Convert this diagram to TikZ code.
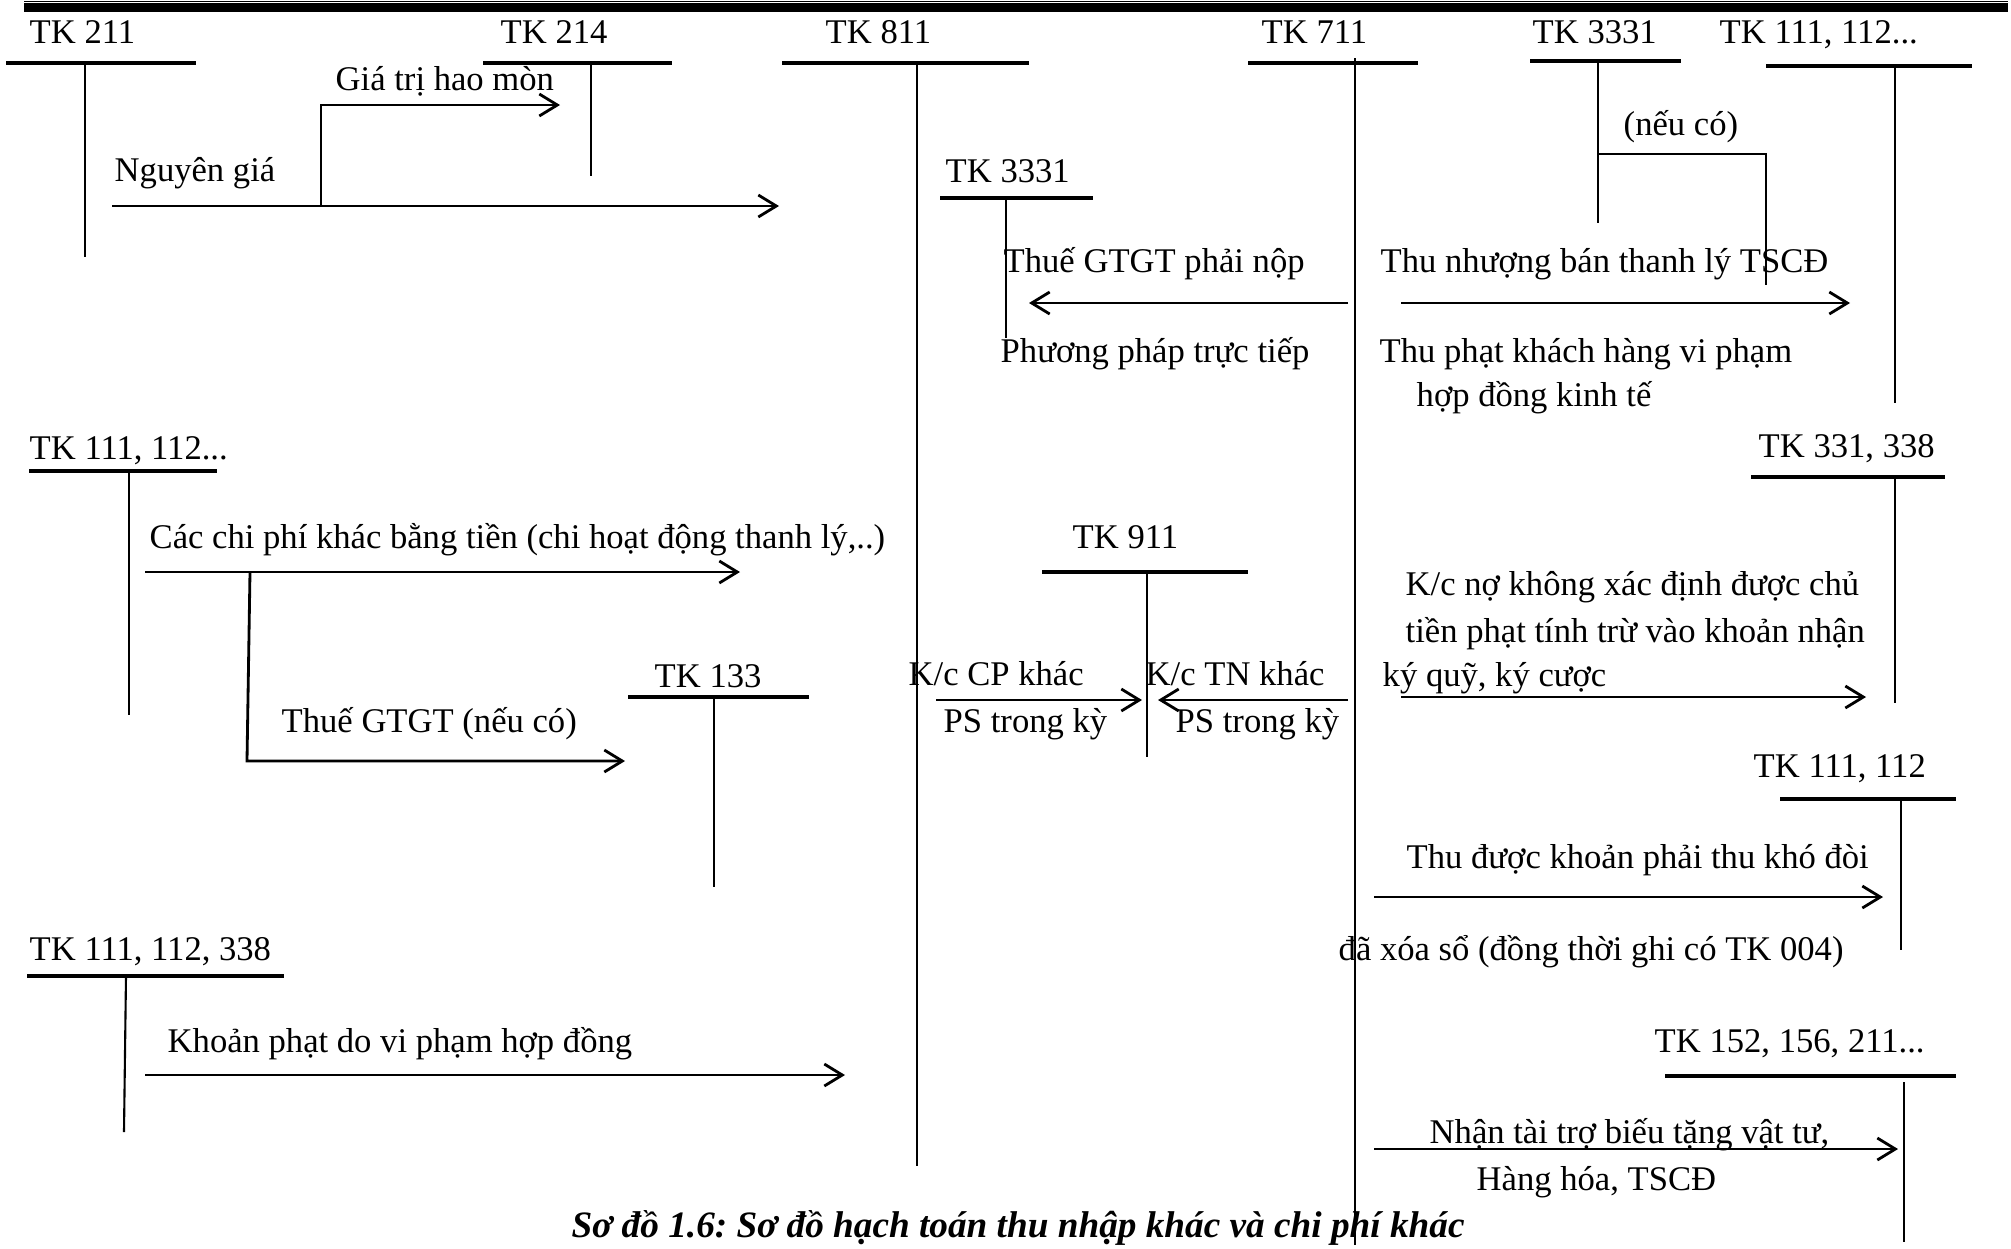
\documentclass[tikz,border=0pt]{standalone}
\usepackage{fontspec}
\setmainfont{Liberation Serif}
\usetikzlibrary{arrows.meta}
\frenchspacing

\begin{document}
\begin{tikzpicture}[x=0.1mm,y=-0.1mm,
	font=\fontsize{9.85}{11}\selectfont,
	lbl/.style={anchor=base west,inner sep=0pt},
	bar/.style={line width=0.95pt},
	acc/.style={line width=0.6pt},
	arr/.style={line width=0.8pt,-{Straight Barb[length=1.8mm,width=2.2mm]}}]
	\useasboundingbox (0,0) rectangle (2011,1248);
	\pgfmathsetmacro\TOP{63}
	\fill (24,3.3) rectangle (2008,11.7);
	\draw[line width=0.3pt] (24,1.5) -- (2008,1.5);

	\coordinate (A211) at (112,206);
	\coordinate (B211) at (321,206);
	\coordinate (C211) at (321,105);
	\coordinate (A214) at (560,105);
	\coordinate (A811) at (779,206);
	\coordinate (X711) at (1348,303);
	\coordinate (A3331) at (1029,303);
	\coordinate (Y711) at (1401,303);
	\coordinate (A111) at (1850,303);
	\coordinate (B3331) at (1598,154);
	\coordinate (C3331) at (1766,154);
	\coordinate (D3331) at (1766,285);
	\coordinate (A112) at (145,572);
	\coordinate (B112) at (250,572);
	\coordinate (C112) at (247,761);
	\coordinate (B811) at (740,572);
	\coordinate (A133) at (625,761);
	\coordinate (C811) at (936,700);
	\coordinate (A911) at (1142,700);
	\coordinate (Z711) at (1348,700);
	\coordinate (B911) at (1158,700);
	\coordinate (W711) at (1401,697);
	\coordinate (A331) at (1866,697);
	\coordinate (V711) at (1374,897);
	\coordinate (A1112) at (1883,897);
	\coordinate (U711) at (1374,1149);
	\coordinate (A152) at (1898,1149);
	\coordinate (A338) at (145,1075);
	\coordinate (D811) at (845,1075);

	\draw[bar] (6,\TOP) -- (196,\TOP);
	\draw[acc] (85,\TOP) -- (85,257);
	\draw[bar] (483,\TOP) -- (672,\TOP);
	\draw[acc] (591,\TOP) -- (591,176);
	\draw[bar] (782,\TOP) -- (1029,\TOP);
	\draw[acc] (917,\TOP) -- (917,1166);
	\draw[bar] (940,198) -- (1093,198);
	\draw[acc] (1006,198) -- (1006,338);
	\draw[bar] (1248,\TOP) -- (1418,\TOP);
	\draw[acc] (1355,58) -- (1355,1245);
	\draw[bar] (1530,61) -- (1681,61);
	\draw[acc] (1598,61) -- (1598,223);
	\draw[bar] (1766,66) -- (1972,66);
	\draw[acc] (1895,66) -- (1895,403);
	\draw[bar] (29,471) -- (217,471);
	\draw[acc] (129,471) -- (129,715);
	\draw[bar] (628,697) -- (809,697);
	\draw[acc] (714,697) -- (714,887);
	\draw[bar] (1042,572) -- (1248,572);
	\draw[acc] (1147,572) -- (1147,757);
	\draw[bar] (1751,477) -- (1945,477);
	\draw[acc] (1895,477) -- (1895,703);
	\draw[bar] (1780,799) -- (1956,799);
	\draw[acc] (1901,799) -- (1901,950);
	\draw[bar] (1665,1076) -- (1956,1076);
	\draw[acc] (1904,1082) -- (1904,1242);
	\draw[bar] (27,976) -- (284,976);
	\draw[acc] (126,976) -- (124,1132);

	\node[lbl] (n211) at (29,43) {TK 211};
	\node[lbl] (n214) at (500,43) {TK 214};
	\node[lbl] (n811) at (825,43) {TK 811};
	\node[lbl] (n711) at (1261,43) {TK 711};
	\node[lbl] (n3331b) at (1532,43) {TK 3331};
	\node[lbl] (n111a) at (1719,43) {TK 111, 112...};
	\node[lbl] (n3331a) at (945,182) {TK 3331};
	\node[lbl] (n111b) at (29,459) {TK 111, 112...};
	\node[lbl] (n911) at (1072,548) {TK 911};
	\node[lbl] (n331) at (1758,457) {TK 331, 338};
	\node[lbl] (n133) at (654,687) {TK 133};
	\node[lbl] (n111c) at (1753,777) {TK 111, 112};
	\node[lbl] (n338) at (29,960) {TK 111, 112, 338};
	\node[lbl] (n152) at (1654,1052) {TK 152, 156, 211...};

	\node[lbl] (hm) at (335,90) {Giá trị hao mòn};
	\node[lbl] (ng) at (114,181) {Nguyên giá};
	\node[lbl] (nc) at (1623,135) {(nếu có)};
	\node[lbl] (gtgt) at (1003,272) {Thuế GTGT phải nộp};
	\node[lbl] (pp) at (1000,362) {Phương pháp trực tiếp};
	\node[lbl] (tn) at (1380,272) {Thu nhượng bán thanh lý TSCĐ};
	\node[lbl] (tp1) at (1379,362) {Thu phạt khách hàng vi phạm};
	\node[lbl] (tp2) at (1416,406) {hợp đồng kinh tế};
	\node[lbl] (cp) at (149,548) {Các chi phí khác bằng tiền (chi hoạt động thanh lý,..)};
	\node[lbl] (thue) at (281,732) {Thuế GTGT (nếu có)};
	\node[lbl] (kcp1) at (908,685) {K/c CP khác};
	\node[lbl] (kcp2) at (943,732) {PS trong kỳ};
	\node[lbl] (ktn1) at (1145,685) {K/c TN khác};
	\node[lbl] (ktn2) at (1175,732) {PS trong kỳ};
	\node[lbl] (kn1) at (1405,595) {K/c nợ không xác định được chủ};
	\node[lbl] (kn2) at (1405,642) {tiền phạt tính trừ vào khoản nhận};
	\node[lbl] (kn3) at (1382,686) {ký quỹ, ký cược};
	\node[lbl] (td1) at (1406,868) {Thu được khoản phải thu khó đòi};
	\node[lbl] (td2) at (1338,960) {đã xóa sổ (đồng thời ghi có TK 004)};
	\node[lbl] (tt1) at (1429,1143) {Nhận tài trợ biếu tặng vật tư,};
	\node[lbl] (tt2) at (1476,1190) {Hàng hóa, TSCĐ};
	\node[lbl] (kp) at (167,1052) {Khoản phạt do vi phạm hợp đồng};
	\node[lbl,font=\fontsize{10.6}{12}\selectfont\bfseries\itshape] (cap) at (571,1237) {Sơ đồ 1.6: Sơ đồ hạch toán thu nhập khác và chi phí khác};

	\draw[arr] (A211) -- (A811);
	\draw[arr] (B211) -- (C211) -- (A214);
	\draw[arr] (X711) -- (A3331);
	\draw[arr] (Y711) -- (A111);
	\draw[acc] (B3331) -- (C3331) -- (D3331);
	\draw[arr] (A112) -- (B811);
	\draw[arr] (B112) -- (C112) -- (A133);
	\draw[arr] (C811) -- (A911);
	\draw[arr] (Z711) -- (B911);
	\draw[arr] (W711) -- (A331);
	\draw[arr] (V711) -- (A1112);
	\draw[arr] (U711) -- (A152);
	\draw[arr] (A338) -- (D811);
\end{tikzpicture}
\end{document}
